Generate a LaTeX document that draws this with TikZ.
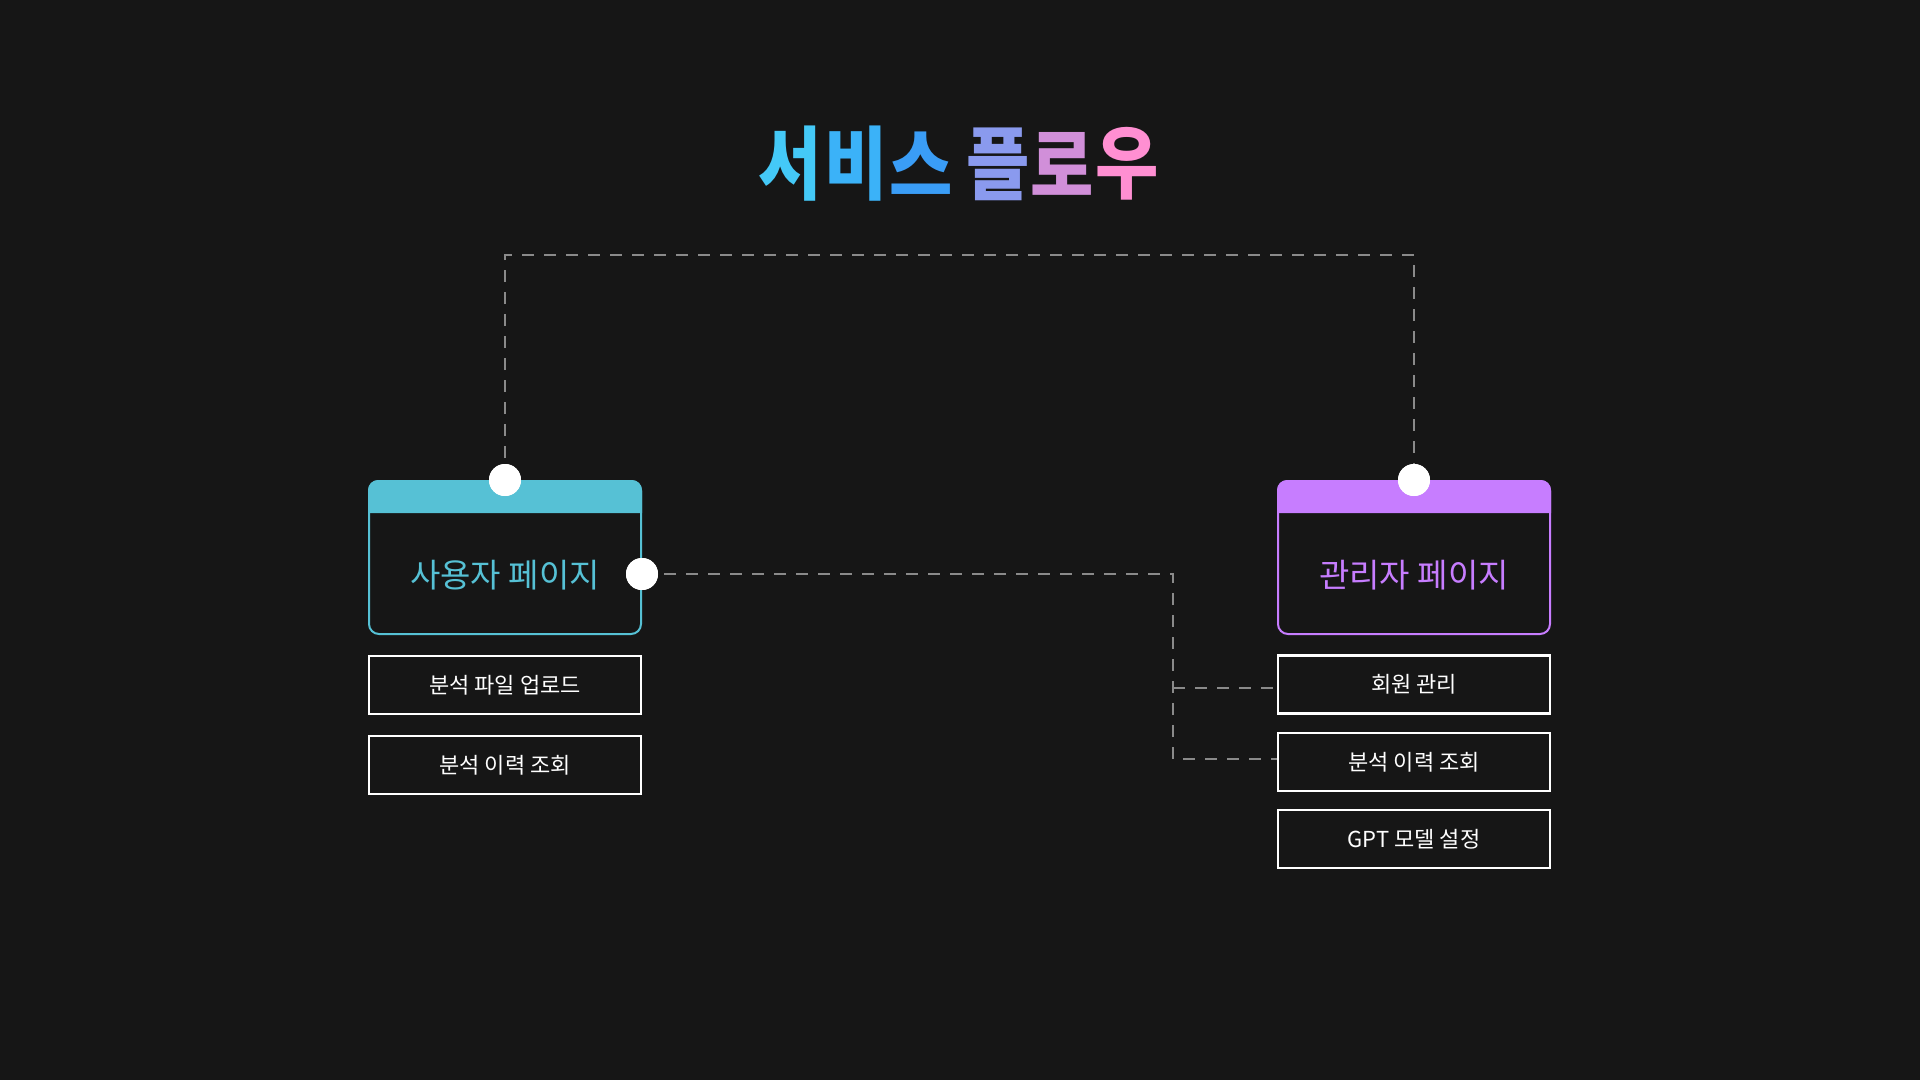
\documentclass[tikz,border=0pt]{standalone}
\usepackage{fontspec}
\newfontfamily\kr{Noto Sans CJK KR}
\definecolor{bg}{HTML}{161616}
\definecolor{usercol}{HTML}{56C1D5}
\definecolor{admincol}{HTML}{C77DFF}
\definecolor{dashcol}{HTML}{8A8A8A}
\definecolor{tA}{HTML}{44C9F7}
\definecolor{tB}{HTML}{3BB2F8}
\definecolor{tC}{HTML}{3A9DF6}
\definecolor{tD}{HTML}{8A9AEE}
\definecolor{tE}{HTML}{D18FD9}
\definecolor{tF}{HTML}{FF8FD2}
\tikzset{
  titlechar/.style={inner sep=0pt, font=\kr\bfseries\fontsize{80}{84}\selectfont},
  mainbox/.style={draw, line width=2pt, rounded corners=10pt, minimum width=272pt, minimum height=153pt, inner sep=0pt},
  mainlabel/.style={font=\kr\fontsize{33}{37}\selectfont, inner sep=0pt},
  subbox/.style={draw=white, line width=2.5pt, fill=bg, minimum width=272pt, minimum height=58pt, inner sep=0pt, text=white, font=\kr\fontsize{22}{26}\selectfont},
  dot/.style={circle, fill=white, minimum size=32pt, inner sep=0pt},
  link/.style={draw=dashcol, line width=2pt, dash pattern=on 12pt off 10pt},
}
\begin{document}
\begin{tikzpicture}[x=1pt,y=-1pt]
\fill[bg] (0,0) rectangle (1920,1080);
\useasboundingbox (0,0) rectangle (1920,1080);
% title
\node[titlechar, text=tA] (t1) at (790,164) {\scalebox{0.86}[1]{서}};
\node[titlechar, text=tB] (t2) at (856,164) {\scalebox{0.86}[1]{비}};
\node[titlechar, text=tC] (t3) at (921,164) {\scalebox{0.86}[1]{스}};
\node[titlechar, text=tD] (t4) at (998,164) {\scalebox{0.86}[1]{플}};
\node[titlechar, text=tE] (t5) at (1062,164) {\scalebox{0.86}[1]{로}};
\node[titlechar, text=tF] (t6) at (1127,164) {\scalebox{0.86}[1]{우}};
% connector bends
\coordinate (tl) at (505,255);
\coordinate (tr) at (1414,255);
\coordinate (jA) at (1173,574);
\coordinate (jB) at (1173,688);
\coordinate (jC) at (1173,759);
% main boxes
\node[mainbox, draw=usercol] (user) at (505,557.5) {};
\fill[usercol] (user.west |- 0,513) [rounded corners=10pt] -- (user.north west) -- (user.north east) [sharp corners] -- (user.east |- 0,513) -- cycle;
\node[mainlabel, text=usercol] (userlbl) at (505,575) {사용자 페이지};
\node[mainbox, draw=admincol] (admin) at (1414,557.5) {};
\fill[admincol] (admin.west |- 0,513) [rounded corners=10pt] -- (admin.north west) -- (admin.north east) [sharp corners] -- (admin.east |- 0,513) -- cycle;
\node[mainlabel, text=admincol] (adminlbl) at (1414,575) {관리자 페이지};
% sub boxes
\node[subbox] (upload) at (505,685) {분석 파일 업로드};
\node[subbox] (uhist) at (505,765) {분석 이력 조회};
\node[subbox] (member) at (1414,684.5) {회원 관리};
\node[subbox] (ahist) at (1414,762) {분석 이력 조회};
\node[subbox] (gpt) at (1414,839) {GPT 모델 설정};
% dots
\node[dot] (userTop) at (user.north) {};
\node[dot] (userRight) at (user.east |- jA) {};
\node[dot] (adminTop) at (admin.north) {};
% connectors
\path[link] (userTop.center) -- (tl) -- (tr) -- (adminTop.center);
\path[link] (userRight.center) -- (jA) -- (jC) -- (jC -| ahist.west);
\path[link] (jB) -- (jB -| member.west);
% redraw dots above lines
\node[dot] at (userTop.center) {};
\node[dot] at (userRight.center) {};
\node[dot] at (adminTop.center) {};
\end{tikzpicture}
\end{document}
